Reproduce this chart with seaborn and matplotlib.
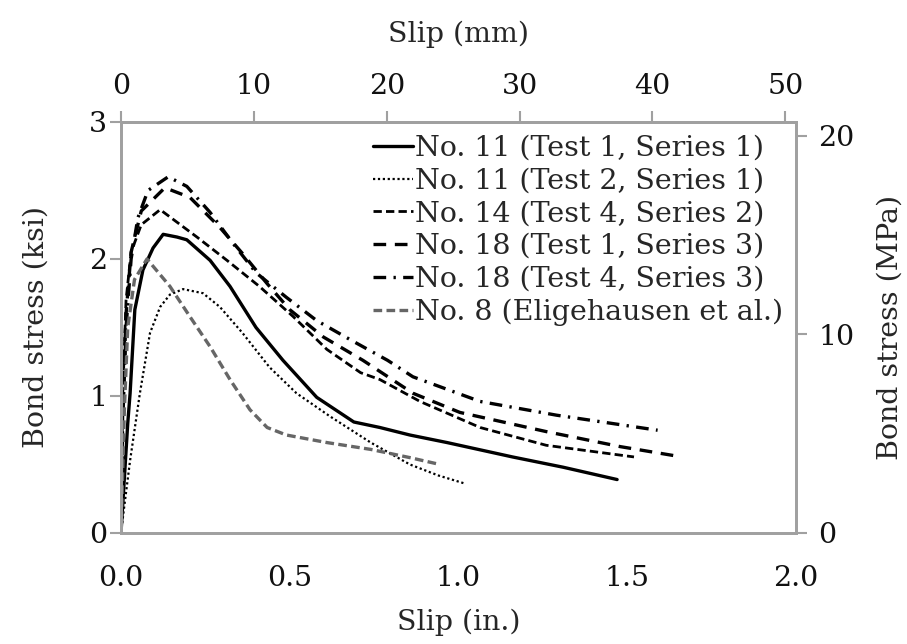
import matplotlib
matplotlib.use("Agg")
import matplotlib.pyplot as plt
import seaborn as sns
import numpy as np
import pandas as pd

# ---- data (slip in inches, bond stress in ksi) ----
labels = [
    "No. 11 (Test 1, Series 1)",
    "No. 11 (Test 2, Series 1)",
    "No. 14 (Test 4, Series 2)",
    "No. 18 (Test 1, Series 3)",
    "No. 18 (Test 4, Series 3)",
    "No. 8 (Eligehausen et al.)",
]

s1_x = [0.0, 0.01, 0.02, 0.027, 0.041, 0.065, 0.095, 0.125, 0.166, 0.195, 0.264, 0.323,
        0.40, 0.48, 0.58, 0.69, 0.767, 0.856, 0.966, 1.16, 1.31, 1.47]
s1_y = [0.0, 0.40, 0.80, 1.02, 1.63, 1.92, 2.08, 2.18, 2.16, 2.14, 1.99, 1.80,
        1.50, 1.26, 0.99, 0.81, 0.77, 0.715, 0.66, 0.555, 0.48, 0.39]

s2_x = [0.0, 0.01, 0.027, 0.056, 0.086, 0.116, 0.145, 0.184, 0.243, 0.293, 0.36, 0.44,
        0.52, 0.62, 0.74, 0.856, 0.94, 1.02]
s2_y = [0.0, 0.20, 0.53, 1.02, 1.46, 1.65, 1.74, 1.78, 1.75, 1.65, 1.46, 1.21,
        1.02, 0.85, 0.66, 0.50, 0.42, 0.36]

s3_x = [0.0, 0.005, 0.015, 0.03, 0.06, 0.116, 0.225, 0.314, 0.41, 0.51, 0.61, 0.71,
        0.767, 0.886, 1.064, 1.26, 1.52]
s3_y = [0.0, 1.00, 1.70, 2.05, 2.25, 2.36, 2.16, 1.99, 1.80, 1.58, 1.34, 1.17,
        1.12, 0.96, 0.77, 0.64, 0.555]

s4_x = [0.0, 0.005, 0.015, 0.03, 0.06, 0.13, 0.204, 0.293, 0.36, 0.433, 0.50, 0.60,
        0.717, 0.865, 1.004, 1.26, 1.48, 1.65]
s4_y = [0.0, 0.90, 1.60, 2.05, 2.35, 2.52, 2.45, 2.23, 2.04, 1.82, 1.63, 1.43,
        1.26, 1.02, 0.88, 0.74, 0.63, 0.56]

s5_x = [0.0, 0.005, 0.015, 0.03, 0.05, 0.08, 0.14, 0.195, 0.264, 0.33, 0.40, 0.49,
        0.58, 0.68, 0.79, 0.865, 1.064, 1.29, 1.59]
s5_y = [0.0, 0.80, 1.50, 2.00, 2.30, 2.50, 2.60, 2.53, 2.34, 2.12, 1.90, 1.72,
        1.55, 1.41, 1.26, 1.14, 0.96, 0.86, 0.75]

s6_x = [0.0, 0.01, 0.02, 0.04, 0.077, 0.145, 0.204, 0.264, 0.323, 0.382, 0.433, 0.49,
        0.61, 0.74, 0.856, 0.945]
s6_y = [0.0, 0.90, 1.50, 1.85, 2.00, 1.80, 1.58, 1.36, 1.12, 0.90, 0.77, 0.715,
        0.66, 0.61, 0.55, 0.50]

xticks_in = [0.0, 0.5, 1.0, 1.5, 2.0]
yticks_ksi = [0, 1, 2, 3]
xticks_mm = [0, 10, 20, 30, 40, 50]
yticks_mpa = [0, 10, 20]

series = [(s1_x, s1_y), (s2_x, s2_y), (s3_x, s3_y), (s4_x, s4_y), (s5_x, s5_y), (s6_x, s6_y)]

styles = [
    dict(color="black", lw=2.4, ls="-"),
    dict(color="black", lw=1.6, ls=(0, (1, 1.2))),
    dict(color="black", lw=2.0, ls=(0, (3.0, 1.5))),
    dict(color="black", lw=2.4, ls=(0, (3.8, 2.6))),
    dict(color="black", lw=2.4, ls=(0, (3.8, 2.2, 0.7, 2.2))),
    dict(color="#666666", lw=2.4, ls=(0, (2.6, 1.3))),
]

FS = 20.5

sns.set_theme(style="white")
plt.rcParams["font.family"] = ["DejaVu Serif", "Liberation Serif"]

fig = plt.figure(figsize=(9.07, 6.44), dpi=100)
ax = fig.add_axes([0.1334, 0.1724, 0.7442, 0.6382])

for lab, (xs, ys), st in zip(labels, series, styles):
    df = pd.DataFrame({"x": xs, "y": ys})
    sns.lineplot(data=df, x="x", y="y", ax=ax, color=st["color"], lw=st["lw"],
                 linestyle=st["ls"], label=lab, estimator=None, sort=False)

KSI2MPA = 6.894757
MM_PER_IN = 25.4

ax.set_xlim(0, 2.0)
ax.set_ylim(0, 3.0)
ax.set_xticks(xticks_in)
ax.set_xticklabels([f"{v:.1f}" for v in xticks_in])
ax.set_yticks(yticks_ksi)
ax.set_xlabel("Slip (in.)", fontsize=FS, labelpad=12)
ax.set_ylabel("Bond stress (ksi)", fontsize=FS, labelpad=28)

spine_col = "#a0a0a0"
tick_kw = dict(direction="out", length=8, width=1.5, color=spine_col, labelsize=FS,
               labelcolor="#111111")
ax.tick_params(axis="both", **tick_kw)
ax.tick_params(axis="x", pad=15)
ax.tick_params(axis="y", pad=2)
for sp in ax.spines.values():
    sp.set_color(spine_col)
    sp.set_linewidth(2.0)
    sp.set_visible(True)

ax2 = ax.twinx()
ax2.set_ylim(0, 3.0 * KSI2MPA)
ax2.set_yticks(yticks_mpa)
ax2.set_ylabel("Bond stress (MPa)", fontsize=FS, labelpad=16)
ax2.tick_params(axis="y", **tick_kw)
ax2.tick_params(axis="y", pad=8)
for sp in ax2.spines.values():
    sp.set_color(spine_col)
    sp.set_linewidth(2.0)
ax2.grid(False)

secx = ax.secondary_xaxis("top", functions=(lambda v: v * MM_PER_IN, lambda v: v / MM_PER_IN))
secx.set_xticks(xticks_mm)
secx.set_xlabel("Slip (mm)", fontsize=FS, labelpad=22)
secx.tick_params(axis="x", **tick_kw)
secx.tick_params(axis="x", pad=8)
secx.spines["top"].set_color(spine_col)
secx.spines["top"].set_linewidth(2.0)

ax.grid(False)
leg = ax.legend(loc="upper right", bbox_to_anchor=(1.0, 1.0), frameon=False, fontsize=FS,
                handlelength=1.4, handletextpad=0.08, labelspacing=0.2, borderaxespad=0.05)

fig.savefig("out.png", dpi=100)
